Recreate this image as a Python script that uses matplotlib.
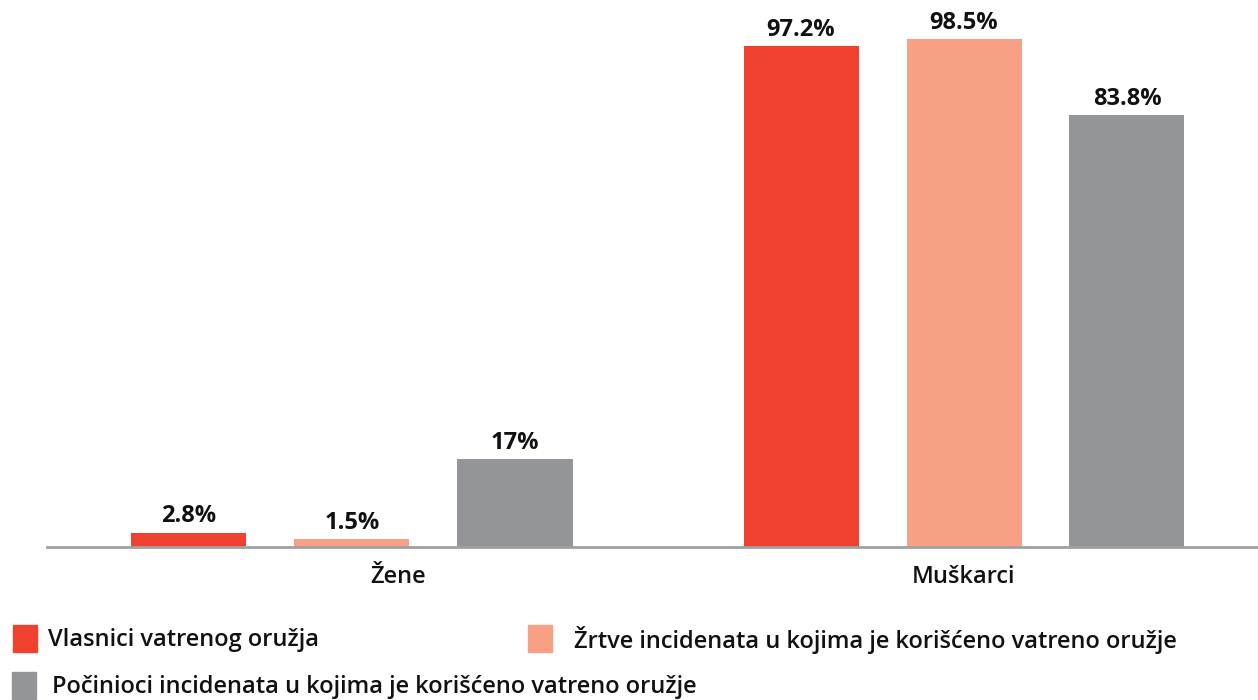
import matplotlib.pyplot as plt
import numpy as np
from matplotlib.patches import Rectangle
from matplotlib.transforms import ScaledTranslation

# data
groups = ['Žene', 'Muškarci']
series = ['Vlasnici vatrenog oružja',
          'Žrtve incidenata u kojima je korišćeno vatreno oružje',
          'Počinioci incidenata u kojima je korišćeno vatreno oružje']
vlasnici = [2.8, 97.2]
zrtve = [1.5, 98.5]
pocinioci = [17, 83.8]
labels = [['2.8%', '97.2%'], ['1.5%', '98.5%'], ['17%', '83.8%']]
colors = ['#EF412D', '#F8A083', '#939598']

plt.rcParams['font.family'] = ['Open Sans', 'DejaVu Sans']

W, H = 1258, 700
fig = plt.figure(figsize=(W / 100, H / 100), dpi=100)
ax = fig.add_axes([47 / W, 153 / H, 1211 / W, 547 / H])

x = np.arange(len(groups))
step = 163 / 612
width = 115 / 612
values = [vlasnici, zrtve, pocinioci]
for i, vals in enumerate(values):
    pos = x + (i - 1) * step
    bars = ax.bar(pos, vals, width, color=colors[i], zorder=2)
    for b, lab in zip(bars, labels[i]):
        ax.annotate(lab, (b.get_x() + b.get_width() / 2, b.get_height()),
                    xytext=(0, 3), textcoords='offset points',
                    ha='center', va='bottom', fontsize=17, fontweight='bold',
                    color='#111111')

ax.set_xlim(-305 / 612, 906 / 612)
ax.set_ylim(0, 547 / 5.155)
ax.set_xticks(x)
ax.set_xticklabels(groups, fontsize=17, fontweight='semibold', color='#111111')
ax.tick_params(axis='x', length=0, pad=13)
# the "Žene" label sits a bit right of its group in the original
tl = ax.get_xticklabels()[0]
tl.set_transform(tl.get_transform() + ScaledTranslation(0.46, 0, fig.dpi_scale_trans))
ax.set_yticks([])
for s in ['top', 'right', 'left']:
    ax.spines[s].set_visible(False)
ax.spines['bottom'].set_color('#A0A0A0')
ax.spines['bottom'].set_linewidth(2)
ax.spines['bottom'].set_zorder(3)

# legend drawn by hand (row layout with uneven columns)
leg_pos = [(13, 625, 48), (528, 625, 574), (12, 672, 52)]
for (sx, sy, tx), name, c in zip(leg_pos, series, colors):
    fig.patches.append(Rectangle((sx / W, 1 - (sy + 27) / H), 24 / W, 27 / H,
                                 transform=fig.transFigure, color=c))
    fig.text(tx / W, 1 - (sy + 15) / H, name, fontsize=17, fontweight='semibold',
             color='#111111', va='center', ha='left')

fig.savefig('out.png', dpi=100)
